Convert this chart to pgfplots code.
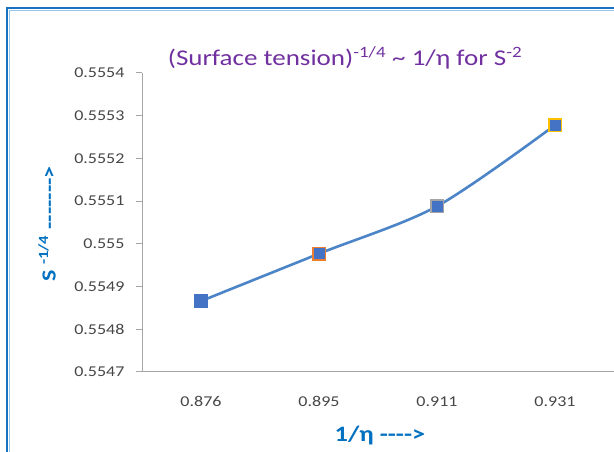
\documentclass[border=0pt]{standalone}
\usepackage{pgfplots}
\pgfplotsset{compat=1.18}
\usepackage{fontspec}
\setmainfont{Carlito}[FakeStretch=1.2, Ligatures=TeXOff]

\definecolor{titlepurple}{RGB}{112,48,160}
\definecolor{labelblue}{RGB}{0,112,192}
\definecolor{ticktext}{RGB}{70,70,70}
\definecolor{axisgray}{RGB}{166,166,166}
\definecolor{seriesline}{RGB}{76,132,200}
\definecolor{markfill}{RGB}{68,114,196}
\definecolor{edgeorange}{RGB}{237,125,49}
\definecolor{edgegray}{RGB}{165,165,165}
\definecolor{edgegold}{RGB}{255,192,0}
\definecolor{frameblue}{RGB}{24,114,192}
\definecolor{framelight}{RGB}{150,200,236}

\begin{document}
\begin{tikzpicture}[x=1pt,y=1pt]
\useasboundingbox (0,0) rectangle (614,452);
% chart frame (left and top edges)
\draw[framelight, line width=1.2pt] (9.2,0) -- (9.2,441.8) -- (614,441.8);
\draw[frameblue, line width=2.2pt] (7,0) -- (7,444) -- (614,444);

\begin{axis}[
  at={(142pt,80pt)}, anchor=south west,
  scale only axis, width=472pt, height=299pt,
  xmin=-0.5, xmax=3.5,
  ymin=0.5547, ymax=0.5554,
  axis lines=left,
  axis line style={axisgray, line width=1pt, -},
  xtick={0,1,2,3},
  xticklabels={0.876,0.895,0.911,0.931},
  xtick style={draw=none},
  ytick={0.5547,0.5548,0.5549,0.555,0.5551,0.5552,0.5553,0.5554},
  yticklabels={0.5547,0.5548,0.5549,0.555,0.5551,0.5552,0.5553,0.5554},
  ytick style={axisgray, line width=1pt},
  tick align=outside,
  major tick length=6pt,
  ticklabel style={font=\fontsize{15}{16}\selectfont, text=ticktext},
  yticklabel style={xshift=-8pt},
  xticklabel style={yshift=-15pt},
  clip=false,
]
% smoothed series line
\addplot[seriesline, line width=2.6pt, smooth, tension=0.5] coordinates {
  (0,0.554866) (1,0.554977) (2,0.555088) (3,0.555278)
};
% data point markers, each with its own outline colour
\addplot[only marks, mark=square*, mark size=6.8pt,
  mark options={fill=markfill, draw=markfill, line width=0.8pt}]
  coordinates {(0,0.554866)};
\addplot[only marks, mark=square*, mark size=6.3pt,
  mark options={fill=markfill, draw=edgeorange, line width=1.6pt}]
  coordinates {(1,0.554977)};
\addplot[only marks, mark=square*, mark size=6.3pt,
  mark options={fill=markfill, draw=edgegray, line width=1.6pt}]
  coordinates {(2,0.555088)};
\addplot[only marks, mark=square*, mark size=6.3pt,
  mark options={fill=markfill, draw=edgegold, line width=1.6pt}]
  coordinates {(3,0.555278)};
\end{axis}

% title
\node[text=titlepurple, font=\fontsize{22.5}{24}\selectfont] at (345,394)
  {(Surface tension)\textsuperscript{-1/4} \textasciitilde{} 1/η for S\textsuperscript{-2}};
% axis titles
\node[text=labelblue, font=\bfseries\fontsize{22}{24}\selectfont] at (380,16)
  {1/η ---->};
\node[text=labelblue, font=\bfseries\fontsize{20}{22}\selectfont, rotate=90] at (47,228)
  {S \textsuperscript{-1/4} ------->};
\end{tikzpicture}
\end{document}
